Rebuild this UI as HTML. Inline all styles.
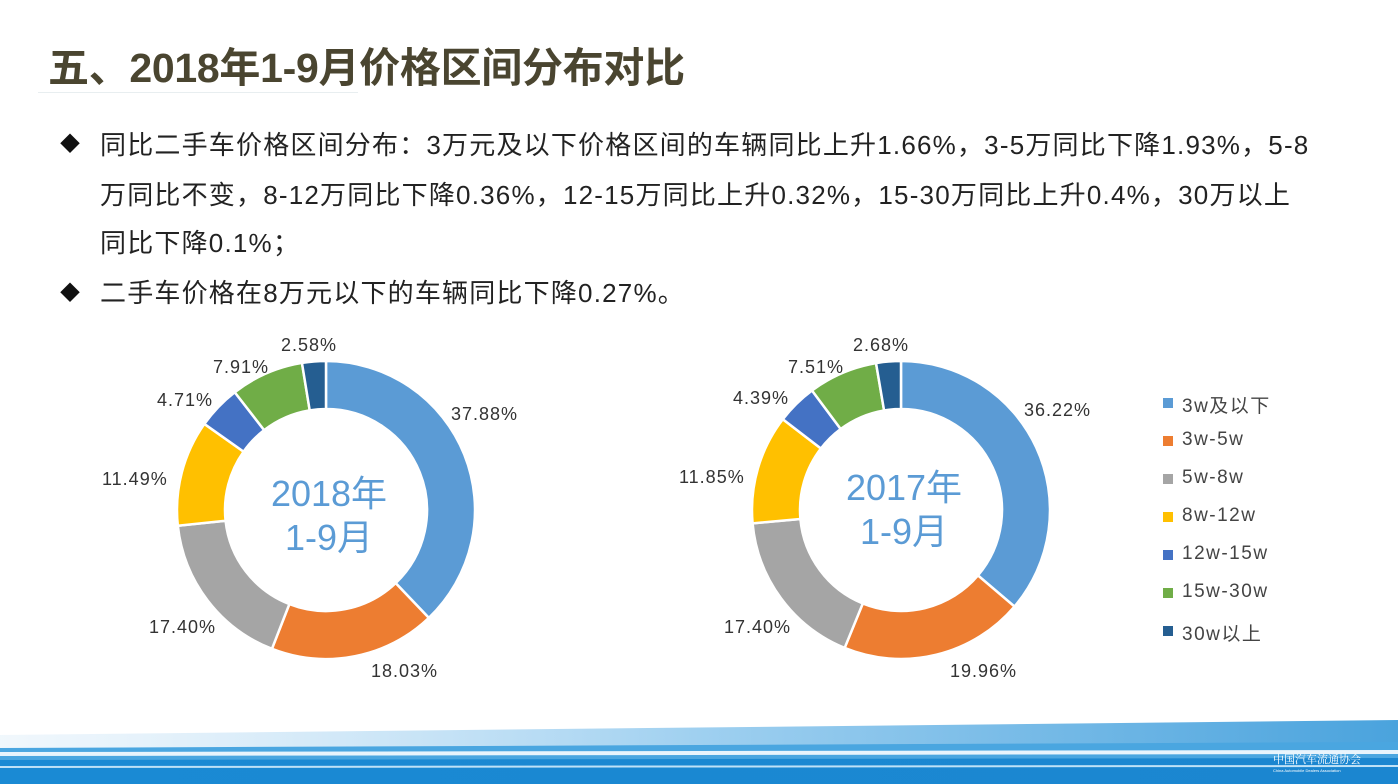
<!DOCTYPE html>
<html><head><meta charset="utf-8"><style>
body{margin:0;width:1398px;height:784px;overflow:hidden;background:#fff;font-family:"Liberation Sans","Noto Sans CJK SC",sans-serif;position:relative}
.t{position:absolute;white-space:nowrap}
.title{left:48px;top:34px;font-size:41px;font-weight:bold;color:#4a4530;letter-spacing:-0.3px}
.p{font-size:26px;color:#222;left:100px;letter-spacing:1.2px}
.b{position:absolute;left:60px;font-size:20px;color:#111}
.l{font-size:18px;color:#333;letter-spacing:1px}
.c{font-size:36px;color:#5b9bd5;text-align:center;width:200px;line-height:44px}
.lg{font-size:19px;color:#444;left:1182px;letter-spacing:1.5px}
.sq{position:absolute;left:1163px;width:10px;height:10px}
</style></head><body>
<div class="t title">五、2018年1-9月价格区间分布对比</div>
<div style="position:absolute;left:38px;top:92px;width:320px;height:1px;background:#e8eef0"></div>
<div class="b" style="top:128px">◆</div>
<div class="t p" style="top:125px">同比二手车价格区间分布：3万元及以下价格区间的车辆同比上升1.66%，3-5万同比下降1.93%，5-8</div>
<div class="t p" style="top:175px">万同比不变，8-12万同比下降0.36%，12-15万同比上升0.32%，15-30万同比上升0.4%，30万以上</div>
<div class="t p" style="top:223px">同比下降0.1%；</div>
<div class="b" style="top:277px">◆</div>
<div class="t p" style="top:273px">二手车价格在8万元以下的车辆同比下降0.27%。</div>
<svg id="s" width="1398" height="784" style="position:absolute;left:0;top:0">
<defs><linearGradient id="g1" x1="0" x2="1"><stop offset="0" stop-color="#cfe6f7" stop-opacity="0.3"/><stop offset="0.5" stop-color="#9fd0f0"/><stop offset="1" stop-color="#4aa3dd"/></linearGradient>
<linearGradient id="g2" x1="0" x2="1"><stop offset="0" stop-color="#1a8ad4"/><stop offset="1" stop-color="#1b86d0"/></linearGradient></defs>
<polygon points="0,735 1398,720 1398,784 0,784" fill="url(#g1)"/>
<polygon points="0,748 1398,742 1398,784 0,784" fill="#4aa6e0"/>
<polygon points="0,752 1398,750 1398,754 0,756" fill="#e8f4fc"/>
<polygon points="0,760 1398,758 1398,784 0,784" fill="url(#g2)"/>
<polygon points="0,766 1398,765 1398,767 0,768" fill="#bfe2f7"/>
<text x="1273" y="763" font-size="11" fill="#fff" font-family="Noto Serif CJK SC, serif">中国汽车流通协会</text>
<text x="1273" y="772" font-size="4" fill="#fff">China Automobile Dealers Association</text>
</svg>
<div class="t c" style="left:229px;top:472px">2018年<br>1-9月</div>
<div class="t c" style="left:804px;top:466px">2017年<br>1-9月</div>
<div class="t l" style="left:281px;top:335px">2.58%</div>
<div class="t l" style="left:213px;top:357px">7.91%</div>
<div class="t l" style="left:157px;top:390px">4.71%</div>
<div class="t l" style="left:102px;top:469px">11.49%</div>
<div class="t l" style="left:149px;top:617px">17.40%</div>
<div class="t l" style="left:371px;top:661px">18.03%</div>
<div class="t l" style="left:451px;top:404px">37.88%</div>
<div class="t l" style="left:853px;top:335px">2.68%</div>
<div class="t l" style="left:788px;top:357px">7.51%</div>
<div class="t l" style="left:733px;top:388px">4.39%</div>
<div class="t l" style="left:679px;top:467px">11.85%</div>
<div class="t l" style="left:724px;top:617px">17.40%</div>
<div class="t l" style="left:950px;top:661px">19.96%</div>
<div class="t l" style="left:1024px;top:400px">36.22%</div>
<div class="sq" style="top:398px;background:#5b9bd5"></div><div class="t lg" style="top:391px">3w及以下</div>
<div class="sq" style="top:436px;background:#ed7d31"></div><div class="t lg" style="top:429px">3w-5w</div>
<div class="sq" style="top:474px;background:#a5a5a5"></div><div class="t lg" style="top:467px">5w-8w</div>
<div class="sq" style="top:512px;background:#ffc000"></div><div class="t lg" style="top:505px">8w-12w</div>
<div class="sq" style="top:550px;background:#4472c4"></div><div class="t lg" style="top:543px">12w-15w</div>
<div class="sq" style="top:588px;background:#70ad47"></div><div class="t lg" style="top:581px">15w-30w</div>
<div class="sq" style="top:626px;background:#255e91"></div><div class="t lg" style="top:619px">30w以上</div>
<script>
var cols=["#5b9bd5","#ed7d31","#a5a5a5","#ffc000","#4472c4","#70ad47","#255e91"];
function donut(cx,cy,R,r,v){var s=document.getElementById('s'),tot=v.reduce((a,b)=>a+b),a=0,h='';
v.forEach(function(x,i){var a2=a+x/tot*2*Math.PI;
function P(rad,t){return [cx+rad*Math.sin(t),cy-rad*Math.cos(t)]}
var p1=P(R,a),p2=P(R,a2),p3=P(r,a2),p4=P(r,a),lg=(a2-a)>Math.PI?1:0;
h+='<path d="M'+p1+' A'+R+','+R+' 0 '+lg+' 1 '+p2+' L'+p3+' A'+r+','+r+' 0 '+lg+' 0 '+p4+'Z" fill="'+cols[i]+'" stroke="#fff" stroke-width="2.5"/>';a=a2;});
s.insertAdjacentHTML('beforeend',h);}
donut(326,510,149,101,[37.88,18.03,17.40,11.49,4.71,7.91,2.58]);
donut(901,510,149,101,[36.22,19.96,17.40,11.85,4.39,7.51,2.68]);
</script>
</body></html>
